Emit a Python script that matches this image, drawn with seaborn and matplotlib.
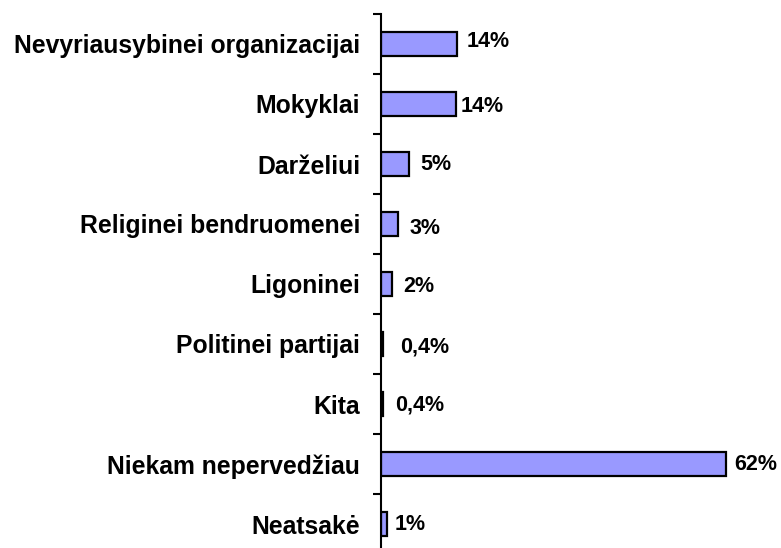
import numpy as np
import pandas as pd
import matplotlib
matplotlib.use('Agg')
import matplotlib.pyplot as plt
import seaborn as sns


categories = [
    'Nevyriausybinei organizacijai',
    'Mokyklai',
    'Darželiui',
    'Religinei bendruomenei',
    'Ligoninei',
    'Politinei partijai',
    'Kita',
    'Niekam nepervedžiau',
    'Neatsakė',
]
# bar lengths, labels as printed
values = [13.7, 13.5, 5.0, 3.1, 2.0, 0.4, 0.4, 62.0, 1.0]
value_labels = ['14%', '14%', '5%', '3%', '2%', '0,4%', '0,4%', '62%', '1%']

# label gap after each bar end and vertical nudge (points), the original is uneven
label_gap = [7, 3, 8.6, 8, 8, 12, 8.6, 6, 6]
label_drop = [1.5, -1.5, 0, -3.6, -1.5, -2, -1, 0, 0]

df = pd.DataFrame({'cat': categories, 'val': values})

sns.set_style('white')
plt.rcParams['font.family'] = ['Liberation Sans', 'DejaVu Sans']
plt.rcParams['font.weight'] = 'bold'
plt.rcParams['text.color'] = 'black'
plt.rcParams['ytick.color'] = 'black'
plt.rcParams['ytick.labelcolor'] = 'black'

fig = plt.figure(figsize=(7.81, 5.48), dpi=100)
ax = fig.add_axes([381 / 781, -6 / 548, 389 / 781, 540 / 548])

sns.barplot(
    data=df,
    x='val',
    y='cat',
    orient='h',
    color='#9999FF',
    saturation=1,
    width=0.4,
    edgecolor='black',
    linewidth=1.6,
    ax=ax
)

ax.set_xlim(0, 70)
ax.set_ylim(8.5, -0.5)

for i, (v, lab) in enumerate(zip(values, value_labels)):
    ax.annotate(
        lab,
        xy=(v, i),
        xytext=(label_gap[i], label_drop[i]),
        textcoords='offset points',
        va='center',
        ha='left',
        fontsize=15.5,
        fontweight='bold',
        color='black'
    )

for s in ['top', 'right', 'bottom']:
    ax.spines[s].set_visible(False)
ax.spines['left'].set_linewidth(1.5)
ax.spines['left'].set_color('black')

ax.set_xticks([])
ax.set_xlabel('')
ax.set_ylabel('')

ax.set_yticks(range(len(categories)))
ax.set_yticklabels(categories, fontsize=17.8, fontweight='bold', color='black')
ax.set_yticks(np.arange(-0.5, len(categories), 1), minor=True)
ax.tick_params(axis='y', which='major', length=0, pad=15)
ax.tick_params(axis='y', which='minor', length=6, width=1.5, color='black', left=True)

fig.savefig('out.png', dpi=100)
